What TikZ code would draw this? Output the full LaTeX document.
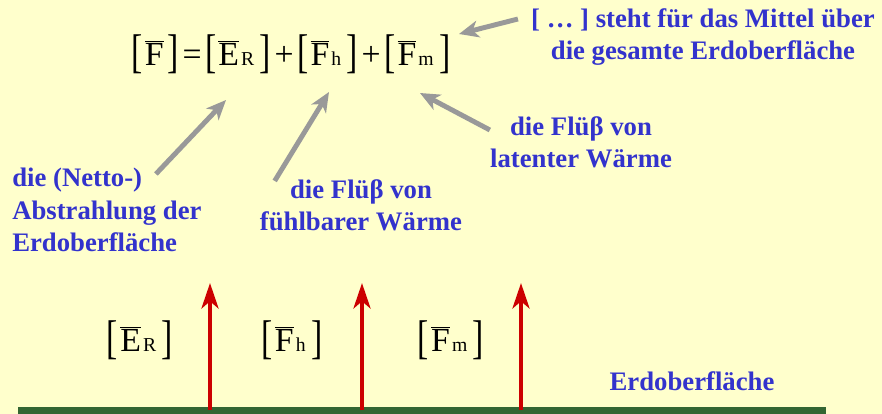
\documentclass[tikz,border=0pt]{standalone}
\usepackage{fontspec}
\usepackage{graphicx}
\setmainfont{Liberation Serif}
\usetikzlibrary{arrows.meta,positioning}
\definecolor{bodenPaper}{RGB}{255,255,204}
\definecolor{bodenBlue}{RGB}{51,51,204}
\definecolor{bodenGray}{RGB}{153,153,153}
\definecolor{bodenRed}{RGB}{204,0,0}
\definecolor{bodenGreen}{RGB}{51,102,51}
\newcommand{\hochklammer}[1]{\raisebox{-1pt}{\scalebox{1}[1.4]{#1}}}
\newcommand{\mittel}[1]{\hochklammer{[}\hspace{1.5pt}#1\hspace{3pt}\hochklammer{]}}
\newcommand{\fluss}[2]{\(\overline{\mbox{#1}}\)\hspace{1.5pt}{\fontsize{14}{16}\selectfont #2}\hspace{1pt}}
\newcommand{\op}[1]{\hspace{2.5pt}#1\hspace{2.5pt}}

\begin{document}
\begin{tikzpicture}[
  x=0.025cm,y=-0.025cm,
  label/.style={
    text=bodenBlue,
    inner sep=0pt,
    align=center,
    font=\fontsize{19}{23}\selectfont\bfseries
  },
  formula/.style={inner sep=0pt,font=\fontsize{24}{28}\selectfont},
  pointer/.style={-{Stealth[length=14pt,width=12pt,inset=4pt]},line width=3.5pt,bodenGray},
  flux/.style={-{Stealth[length=18pt,width=12pt,inset=5pt]},line width=3.5pt,bodenRed}
]
  \fill[bodenPaper] (0,0) rectangle (882,414);
  \useasboundingbox (0,0) rectangle (882,414);

  % budget equation and its explanations
  \node[formula] (budget) at (291,54)
    {\mittel{\(\overline{\mbox{F}}\)}\op{=}\mittel{\fluss{E}{R}}\op{+}\mittel{\fluss{F}{h}}\op{+}\mittel{\fluss{F}{m}}};
  \node[label] (meaning) at (703,37) {[ … ] steht für das Mittel über\\die gesamte Erdoberfläche};
  \node[label,align=left,anchor=west] (netto) at (12,210) {die (Netto-)\\Abstrahlung der\\Erdoberfläche};
  \node[label] (sensible) at (361,205) {die Flüβ von\\fühlbarer Wärme};
  \node[label] (latent) at (581,142) {die Flüβ von\\latenter Wärme};

  \coordinate (meaningTip) at (459,34);
  \coordinate (nettoTip) at (226,100);
  \coordinate (sensibleTip) at (329,92);
  \coordinate (latentTip) at (420,93);
  \draw[pointer] (meaning.west) ++(-13,-18) -- (meaningTip);
  \draw[pointer] (netto.north) ++(49,6) -- (nettoTip);
  \draw[pointer] (sensible.north west) ++(15,2) -- (sensibleTip);
  \draw[pointer] (latent.west) ++(0,-12) -- (latentTip);

  % surface with the three fluxes
  \node[fill=bodenGreen,inner sep=0pt,anchor=south west,
        minimum width=20.2cm,minimum height=0.175cm] (ground) at (18,414) {};
  \node[label] (surface) at (692,381) {Erdoberfläche};
  \node[formula] (radiation) at (140,340) {\mittel{\fluss{E}{R}}};
  \node[formula] (sensibleFlux) at (292,340) {\mittel{\fluss{F}{h}}};
  \node[formula] (latentFlux) at (451,340) {\mittel{\fluss{F}{m}}};

  \coordinate (riseE) at (210,283);
  \coordinate (riseH) at (362,283);
  \coordinate (riseM) at (521,283);
  \draw[flux] (ground.center -| riseE) -- (riseE);
  \draw[flux] (ground.center -| riseH) -- (riseH);
  \draw[flux] (ground.center -| riseM) -- (riseM);
\end{tikzpicture}
\end{document}
